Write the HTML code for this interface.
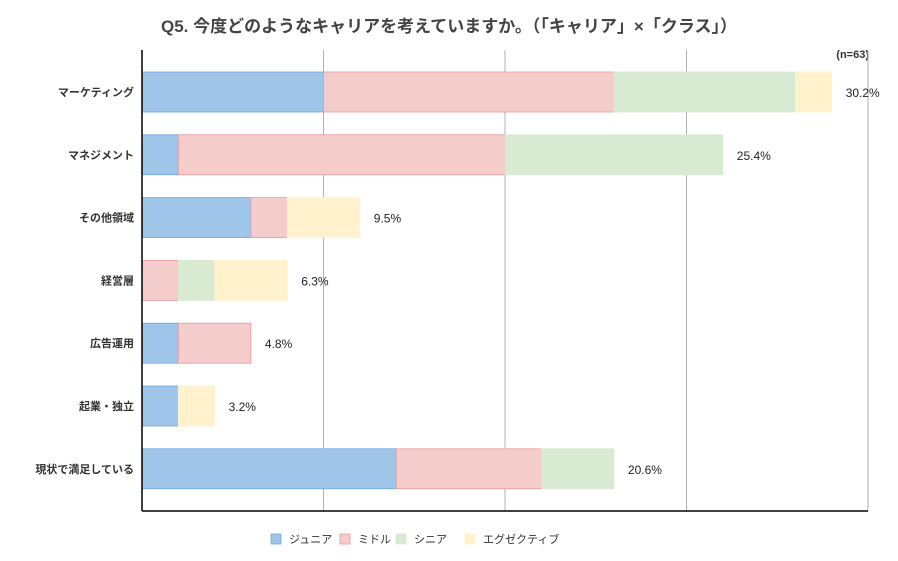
<!DOCTYPE html>
<html><head><meta charset="utf-8"><style>
body{margin:0;background:#fff;width:898px;height:556px;overflow:hidden;font-family:"Liberation Sans","Noto Sans CJK JP",sans-serif}
</style></head><body>
<svg id="chart" width="898" height="556" xmlns="http://www.w3.org/2000/svg" font-family="'Liberation Sans','Noto Sans CJK JP',sans-serif">
<text x="449" y="32" text-anchor="middle" font-size="17" font-weight="bold" fill="#444">Q5. 今度どのようなキャリアを考えていますか。（「キャリア」×「クラス」）</text>
<text x="869" y="58" text-anchor="end" font-size="11" font-weight="bold" fill="#333">(n=63)</text>
<g id="grid"></g><g id="bars"></g><g id="labels"></g><g id="legend"></g>
<line x1="142" y1="50" x2="142" y2="511" stroke="#000" stroke-width="1.5"/>
<line x1="142" y1="511" x2="868" y2="511" stroke="#000" stroke-width="1.5"/>
</svg>
<script>
const categories=["マーケティング","マネジメント","その他領域","経営層","広告運用","起業・独立","現状で満足している"];
const junior=[5,1,3,0,1,1,7];
const middle=[8,9,1,1,2,0,4];
const senior=[5,6,0,1,0,0,2];
const executive=[1,0,2,2,0,1,0];
const totalLabels=["30.2%","25.4%","9.5%","6.3%","4.8%","3.2%","20.6%"];
const seriesNames=["ジュニア","ミドル","シニア","エグゼクティブ"];
const gridTicks=[5,10,15,20];
const NS="http://www.w3.org/2000/svg";
const x0=142,x1=868,xMax=20,top0=92,step=62.8,barH=40;
const xs=v=>x0+v/xMax*(x1-x0);
const yc=i=>top0+i*step;
const fills=["#9fc5e8","#f4cccc","#d9ead3","#fff2cc"];
const strokes=["#6fa8dc","#ea9999","#d9ead3","#fff2cc"];
const series=[junior,middle,senior,executive];
function mk(tag,attrs,parent){const e=document.createElementNS(NS,tag);for(const k in attrs)e.setAttribute(k,attrs[k]);parent.appendChild(e);return e;}
const grid=document.getElementById('grid');
gridTicks.forEach(t=>{
  const l=mk('line',{x1:xs(t),x2:xs(t),y1:50,y2:511,stroke:'#b0b0b0','stroke-width':1},grid);
  
  
});
const bars=document.getElementById('bars'),labels=document.getElementById('labels');
categories.forEach((c,i)=>{
  let acc=0;
  series.forEach((s,k)=>{
    const v=s[i];
    if(v>0){
      const r=mk('rect',{x:xs(acc),y:yc(i)-barH/2,width:xs(acc+v)-xs(acc),height:barH,fill:fills[k],stroke:strokes[k],'stroke-width':0.8},bars);
      
      
    }
    acc+=v;
  });
  const t=mk('text',{x:134,y:yc(i)+4,'text-anchor':'end','font-size':11,'font-weight':'bold',fill:'#333'},labels);
  t.textContent=c;
  
  
  const p=mk('text',{x:xs(acc)+14,y:yc(i)+5,'font-size':12,fill:'#222'},labels);
  p.textContent=totalLabels[i];
  
  
});
const lg=document.getElementById('legend');
const lx=[271,340,396,465];
seriesNames.forEach((n,k)=>{
  const r=mk('rect',{x:lx[k],y:534,width:10,height:10,fill:fills[k],stroke:strokes[k],'stroke-width':0.8},lg);
  
  
  const t=mk('text',{x:lx[k]+18,y:543,'font-size':11,fill:'#333'},lg);
  t.textContent=n;
  
  
});
</script>
</body></html>
